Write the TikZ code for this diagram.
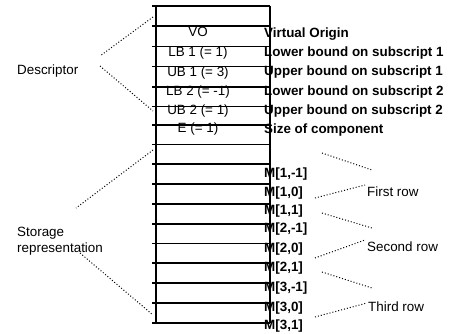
\documentclass[tikz,border=0pt]{standalone}
\usepackage{fontspec}
\setmainfont{Liberation Sans}
\begin{document}
\begin{tikzpicture}[x=1pt,y=-1pt,
  txt/.style={inner sep=0pt,font=\fontsize{13.4}{16}\selectfont,text height=9.6pt,text depth=0pt},
  celltxt/.style={txt,anchor=center},
  lbl/.style={txt,anchor=west,font=\fontsize{13.4}{16}\selectfont\bfseries},
  side/.style={txt,anchor=west},
  dots/.style={line width=1pt,dash pattern=on 1pt off 2pt},
  hline/.style={line width=1.4pt},
  vline/.style={line width=1.8pt}]
\useasboundingbox (0,0) rectangle (450,333);
% box
\foreach \y in {6,26,46.5,66.5,87,106.5,125,144.5,164,184,204,224,243.5,263,283,303,323}
  \draw[hline] (152,\y) -- (270,\y);
\draw[vline] (156,6) -- (156,323);
\draw[vline] (270,6) -- (270,323);
% cell texts
\node[celltxt] (vo) at (198,32) {VO};
\node[celltxt] (lb1) at (198,52) {LB 1 (= 1)};
\node[celltxt] (ub1) at (198,72) {UB 1 (= 3)};
\node[celltxt] (lb2) at (198,91) {LB 2 (= -1)};
\node[celltxt] (ub2) at (198,110) {UB 2 (= 1)};
\node[celltxt] (e) at (198,128) {E (= 1)};
% right labels
\node[lbl] (l1) at (264,33) {Virtual Origin};
\node[lbl] (l2) at (264,52) {Lower bound on subscript 1};
\node[lbl] (l3) at (264,71) {Upper bound on subscript 1};
\node[lbl] (l4) at (264,91) {Lower bound on subscript 2};
\node[lbl] (l5) at (264,110) {Upper bound on subscript 2};
\node[lbl] (l6) at (264,129) {Size of component};
\node[lbl] (m1) at (264,173) {M[1,-1]};
\node[lbl] (m2) at (264,192) {M[1,0]};
\node[lbl] (m3) at (264,210) {M[1,1]};
\node[lbl] (m4) at (264,228) {M[2,-1]};
\node[lbl] (m5) at (264,248) {M[2,0]};
\node[lbl] (m6) at (264,267) {M[2,1]};
\node[lbl] (m7) at (264,287) {M[3,-1]};
\node[lbl] (m8) at (264,307) {M[3,0]};
\node[lbl] (m9) at (264,325) {M[3,1]};
% side labels
\node[side] (desc) at (17,70) {Descriptor};
\node[inner sep=0pt,anchor=north west,align=left,font=\fontsize{13.4}{16}\selectfont] (stor) at (17,226.5) {Storage\\representation};
\node[side] (r1) at (367,192) {First row};
\node[side] (r2) at (367,247) {Second row};
\node[side] (r3) at (368,307) {Third row};
% dotted lines
\coordinate (d1a) at (153,17); \coordinate (d1b) at (100,56);
\coordinate (d2a) at (100,66); \coordinate (d2b) at (153,111);
\coordinate (s1a) at (153,150); \coordinate (s1b) at (76,208);
\coordinate (s2a) at (80,253); \coordinate (s2b) at (153,315);
\coordinate (q1a) at (322,153); \coordinate (q1b) at (372,170);
\coordinate (q2a) at (315,198); \coordinate (q2b) at (365,185);
\coordinate (q3a) at (322,213); \coordinate (q3b) at (372,228);
\coordinate (q4a) at (315,258); \coordinate (q4b) at (365,240);
\coordinate (q5a) at (322,272); \coordinate (q5b) at (372,288);
\coordinate (q6a) at (315,317); \coordinate (q6b) at (367,303);
\foreach \p in {d1,d2,s1,s2,q1,q2,q3,q4,q5,q6}
  \draw[dots] (\p a) -- (\p b);
\end{tikzpicture}
\end{document}
